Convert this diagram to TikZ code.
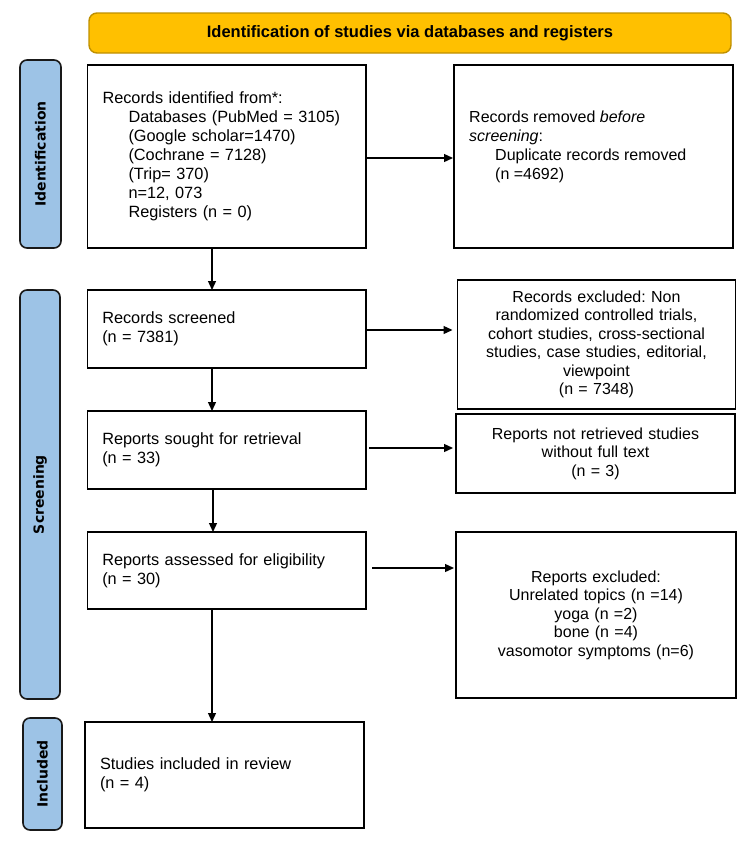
\documentclass[tikz,border=0pt]{standalone}
\usepackage{fontspec}
\setmainfont{Liberation Sans}
\newfontfamily\labfont{DejaVu Sans}
\usetikzlibrary{arrows.meta,calc}
\definecolor{bannerfill}{HTML}{FFC000}
\definecolor{bannerdraw}{HTML}{BF9000}
\definecolor{labfill}{HTML}{9DC3E6}
\frenchspacing
\begin{document}
\begin{tikzpicture}[x=1pt,y=-1pt,
  box/.style={draw=black, line width=1.8pt, inner sep=0pt, outer sep=0pt},
  lbox/.style={box, align=left, font=\fontsize{16.3}{19}\selectfont},
  rbox/.style={box, align=center, font=\fontsize{16}{18.5}\selectfont},
  phase/.style={draw=black!90, line width=1.6pt, fill=labfill, rounded corners=7pt, inner sep=0pt, outer sep=0pt},
  phasetxt/.style={rotate=90, font=\labfont\bfseries\fontsize{14}{16}\selectfont},
  arr/.style={line width=1.3pt, -{Triangle[length=9pt,width=8pt]}}
]
\useasboundingbox (0,0) rectangle (750,841);

% banner
\node[draw=bannerdraw, line width=1.4pt, fill=bannerfill, rounded corners=8pt,
      minimum width=642pt, minimum height=40pt, inner sep=0pt,
      font=\bfseries\fontsize{16.5}{19}\selectfont] (banner) at (410,33)
      {Identification of studies via databases and registers};

% phase labels
\node[phase, minimum width=41pt, minimum height=188pt] (pid) at (40.5,154) {};
\node[phasetxt] (pidt) at (pid.center) {Identification};
\node[phase, minimum width=40pt, minimum height=409pt] (psc) at (40,494.5) {};
\node[phasetxt] (psct) at (psc.center) {Screening};
\node[phase, minimum width=39pt, minimum height=112pt] (pin) at (42.5,774) {};
\node[phasetxt] (pint) at (pin.center) {Included};

% left column
\node[lbox, minimum width=278.5pt, minimum height=183pt, text width=248.5pt] (b1) at (226.75,156.5)
  {Records identified from*:\\
   \hspace*{26pt}Databases (PubMed = 3105)\\
   \hspace*{26pt}(Google scholar=1470)\\
   \hspace*{26pt}(Cochrane = 7128)\\
   \hspace*{26pt}(Trip= 370)\\
   \hspace*{26pt}n=12, 073\\
   \hspace*{26pt}Registers (n = 0)};
\node[lbox, minimum width=278.5pt, minimum height=78pt, text width=249pt] (b3) at (226.75,329)
  {Records screened\\(n = 7381)};
\node[lbox, minimum width=278.5pt, minimum height=78pt, text width=249pt] (b5) at (226.75,450)
  {Reports sought for retrieval\\(n = 33)};
\node[lbox, minimum width=278.5pt, minimum height=77pt, text width=249pt] (b7) at (226.75,570.5)
  {Reports assessed for eligibility\\(n = 30)};
\node[lbox, minimum width=279pt, minimum height=106pt, text width=249pt] (b9) at (224.5,775)
  {Studies included in review\\(n = 4)};

% right column
\node[box, minimum width=279pt, minimum height=183pt] (b2) at (593.5,156.5) {};
\node[anchor=north west, inner sep=0pt, align=left, font=\fontsize{16}{19}\selectfont] (b2t) at (469,111)
  {Records removed \textit{before}\\
   \textit{screening}:\\
   \hspace*{26pt}Duplicate records removed\\
   \hspace*{26pt}(n =4692)};
\node[rbox, minimum width=278pt, minimum height=129pt, text width=260pt] (b4) at (596.5,344.5)
  {Records excluded: Non\\randomized controlled trials,\\cohort studies, cross-sectional\\studies, case studies, editorial,\\viewpoint\\(n = 7348)};
\node[rbox, minimum width=279pt, minimum height=79pt, text width=260pt] (b6) at (595.5,453.5)
  {Reports not retrieved studies\\without full text\\(n = 3)};
\node[rbox, minimum width=280pt, minimum height=166pt, text width=260pt] (b8) at (596,615)
  {Reports excluded:\\Unrelated topics (n =14)\\yoga (n =2)\\bone (n =4)\\vasomotor symptoms (n=6)};

% horizontal arrows
\draw[arr, shorten <=1pt, shorten >=1pt] ([yshift=-1.5pt]b1.east) -- ([yshift=-1.5pt]b2.west);
\draw[arr, shorten >=5pt] ([yshift=-1pt]b3.east) -- ([yshift=-1pt]b3.east -| b4.west);
\draw[arr, shorten <=3pt, shorten >=3pt] ([yshift=2pt]b5.east) -- ([yshift=2pt]b5.east -| b6.west);
\draw[arr, shorten <=6pt, shorten >=2pt] ([yshift=2.5pt]b7.east) -- ([yshift=2.5pt]b7.east -| b8.west);

% vertical arrows
\draw[arr] ([xshift=-14.75pt]b1.south) -- ([xshift=-14.75pt]b1.south |- b3.north);
\draw[arr] ([xshift=-14.75pt]b3.south) -- ([xshift=-14.75pt]b3.south |- b5.north);
\draw[arr] ([xshift=-13.75pt]b5.south) -- ([xshift=-13.75pt]b5.south |- b7.north);
\draw[arr] ([xshift=-14.75pt]b7.south) -- ([xshift=-14.75pt]b7.south |- b9.north);
\end{tikzpicture}
\end{document}
